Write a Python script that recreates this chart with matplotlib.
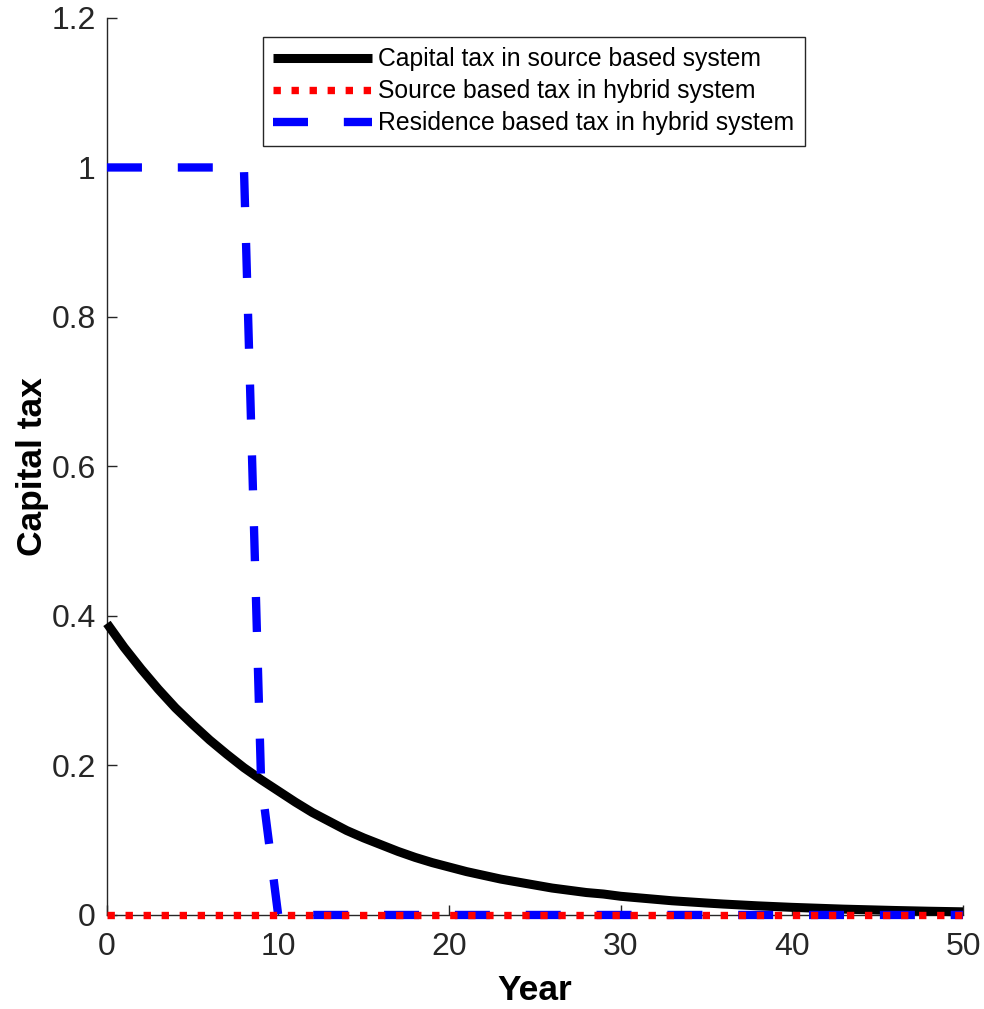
import numpy as np
import matplotlib.pyplot as plt

plt.rcParams['font.family'] = ['Liberation Sans', 'DejaVu Sans']

# data
years = list(range(0, 51))
source_tax = [0.390, 0.358, 0.329, 0.302, 0.277, 0.255, 0.234, 0.215, 0.197, 0.181,
              0.166, 0.151, 0.137, 0.125, 0.113, 0.103, 0.094, 0.085, 0.077, 0.070,
              0.064, 0.058, 0.053, 0.048, 0.044, 0.040, 0.036, 0.033, 0.030, 0.028,
              0.025, 0.023, 0.021, 0.019, 0.0175, 0.016, 0.0146, 0.0134, 0.0122, 0.0112,
              0.0102, 0.0094, 0.0086, 0.0078, 0.0072, 0.0066, 0.0060, 0.0055, 0.0050, 0.0046,
              0.0042]
hybrid_source = [0.0, 0.0, 0.0, 0.0, 0.0, 0.0, 0.0, 0.0, 0.0, 0.0,
                 0.0, 0.0, 0.0, 0.0, 0.0, 0.0, 0.0, 0.0, 0.0, 0.0,
                 0.0, 0.0, 0.0, 0.0, 0.0, 0.0, 0.0, 0.0, 0.0, 0.0,
                 0.0, 0.0, 0.0, 0.0, 0.0, 0.0, 0.0, 0.0, 0.0, 0.0,
                 0.0, 0.0, 0.0, 0.0, 0.0, 0.0, 0.0, 0.0, 0.0, 0.0,
                 0.0]
hybrid_residence = [1.0, 1.0, 1.0, 1.0, 1.0, 1.0, 1.0, 1.0, 1.0, 0.18,
                    0.0, 0.0, 0.0, 0.0, 0.0, 0.0, 0.0, 0.0, 0.0, 0.0,
                    0.0, 0.0, 0.0, 0.0, 0.0, 0.0, 0.0, 0.0, 0.0, 0.0,
                    0.0, 0.0, 0.0, 0.0, 0.0, 0.0, 0.0, 0.0, 0.0, 0.0,
                    0.0, 0.0, 0.0, 0.0, 0.0, 0.0, 0.0, 0.0, 0.0, 0.0,
                    0.0]
labels = ['Capital tax in source based system',
          'Source based tax in hybrid system',
          'Residence based tax in hybrid system']
xticks = [0, 10, 20, 30, 40, 50]
yticks = [0, 0.2, 0.4, 0.6, 0.8, 1.0, 1.2]
ytick_labels = ['0', '0.2', '0.4', '0.6', '0.8', '1', '1.2']

fig = plt.figure(figsize=(9.84, 10.09), dpi=100)
ax = fig.add_axes([0.1087, 0.0932, 0.87, 0.889])

l1, = ax.plot(years, source_tax, color='black', lw=6.5, solid_capstyle='butt',
              solid_joinstyle='round', clip_on=False, zorder=3, label=labels[0])
l3, = ax.plot(years, hybrid_residence, color='#0000ff', lw=6, dashes=(4.2, 4.3),
              dash_capstyle='butt', clip_on=False, zorder=4, label=labels[2])
l2, = ax.plot(years, hybrid_source, color='#ff0000', lw=5.3, dashes=(1, 1.45),
              dash_capstyle='butt', clip_on=False, zorder=5, label=labels[1])

ax.set_xlim(0, 50)
ax.set_ylim(0, 1.2)
ax.set_xticks(xticks)
ax.set_yticks(yticks)
ax.set_yticklabels(ytick_labels)

for s in ['top', 'right']:
    ax.spines[s].set_visible(False)
for s in ['left', 'bottom']:
    ax.spines[s].set_color('#262626')
    ax.spines[s].set_linewidth(1.0)
ax.tick_params(direction='in', length=7.5, width=1.0, colors='#262626',
               labelsize=23, top=False, right=False)
ax.tick_params(axis='y', pad=8)
ax.tick_params(axis='x', pad=12)

ax.set_xlabel('Year', fontsize=25.5, fontweight='bold', labelpad=9)
ax.set_ylabel('Capital tax', fontsize=25.5, fontweight='bold', labelpad=2)

leg = ax.legend(handles=[l1, l2, l3], loc='upper left',
                bbox_to_anchor=(0.182, 0.979), fontsize=17.8, frameon=True,
                fancybox=False, framealpha=1, edgecolor='#262626',
                handlelength=4.0, handletextpad=0.25, labelspacing=0.33,
                borderpad=0.42, borderaxespad=0)
leg.get_frame().set_linewidth(1.0)

fig.savefig('out.png', dpi=100)
